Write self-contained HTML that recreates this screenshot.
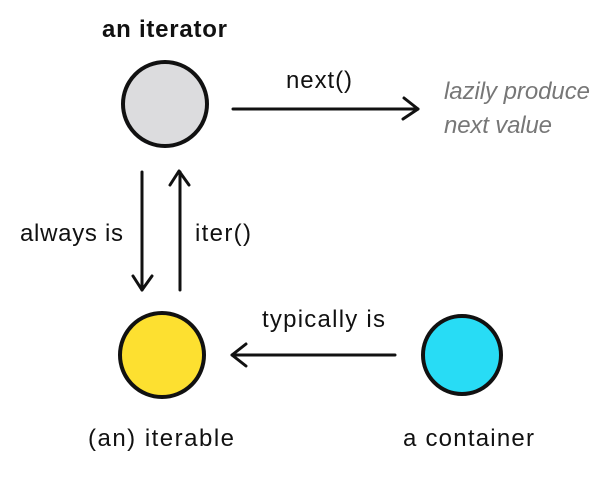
<!DOCTYPE html>
<html><head><style>
body{margin:0;background:#fff;}
svg text{font-family:"Liberation Sans",sans-serif;font-size:24px;fill:#111;}
</style></head><body>
<svg width="610" height="477" viewBox="0 0 610 477" xmlns="http://www.w3.org/2000/svg">
<g stroke="#111" fill="none" stroke-linecap="round" stroke-linejoin="round">
<circle cx="165" cy="104" r="42" fill="#dcdcde" stroke-width="4"/>
<circle cx="162" cy="355" r="42" fill="#fde030" stroke-width="4"/>
<circle cx="462" cy="355" r="39" fill="#28dcf5" stroke-width="4"/>
<path d="M233 109 L418 109" stroke-width="3"/>
<path d="M404 98 L418 109 L403 119" stroke-width="3"/>
<path d="M142 172 L142 290" stroke-width="3"/>
<path d="M133 276 L142 290 L152 276" stroke-width="3"/>
<path d="M180 290 L180 172" stroke-width="3"/>
<path d="M170 185 L179 171 L189 185" stroke-width="3"/>
<path d="M395 355 L232 355" stroke-width="3"/>
<path d="M246 344 L232 355 L246 366" stroke-width="3"/>
</g>
<text x="102" y="37" style="font-weight:bold" textLength="125">an iterator</text>
<text x="286" y="88" textLength="66">next()</text>
<text x="444" y="99" style="font-style:italic;fill:#777" textLength="146">lazily produce</text>
<text x="444" y="133" style="font-style:italic;fill:#777" textLength="108">next value</text>
<text x="20" y="241" textLength="103">always is</text>
<text x="195" y="241" textLength="56">iter()</text>
<text x="262" y="327" textLength="123">typically is</text>
<text x="88" y="446" textLength="146">(an) iterable</text>
<text x="403" y="446" textLength="131">a container</text>
</svg>
</body></html>
